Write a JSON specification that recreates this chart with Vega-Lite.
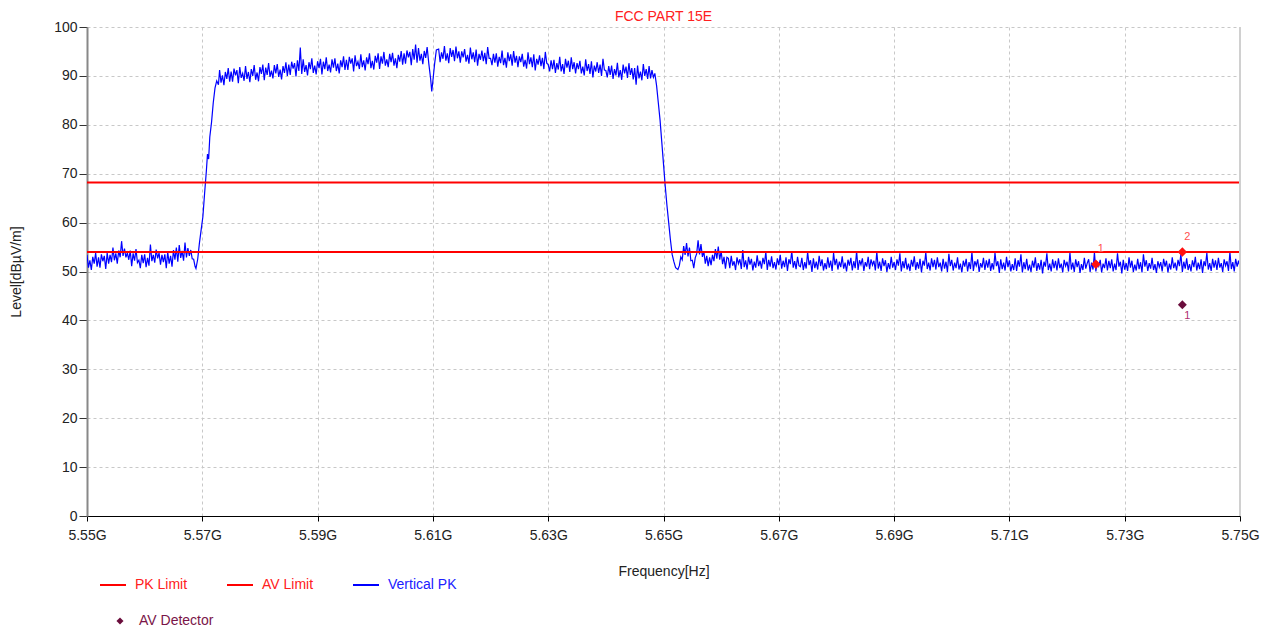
{
  "$schema": "https://vega.github.io/schema/vega-lite/v6.json",
  "width": 1153,
  "height": 489,
  "autosize": {"type": "none"},
  "padding": {"left": 87, "top": 27, "right": 34, "bottom": 117},
  "background": "white",
  "title": {"text": "FCC PART 15E", "color": "#ff2020", "fontSize": 14, "fontWeight": "normal", "offset": -4, "anchor": "middle"},
  "config": {
    "font": "Liberation Sans, Arial, sans-serif",
    "view": {"stroke": null},
    "axis": {"grid": true, "gridColor": "#c8c8c8", "gridDash": [3, 3], "gridWidth": 1, "labelFontSize": 14, "labelColor": "#222", "titleFontSize": 14, "titleFontWeight": "normal", "titleColor": "#222"}
  },
  "datasets": {
    "pk": [
{"f":5.55000,"v":53.4},{"f":5.55025,"v":50.8},{"f":5.55050,"v":52.3},{"f":5.55075,"v":50.3},{"f":5.55100,"v":53.0},{"f":5.55125,"v":51.6},{"f":5.55150,"v":53.8},{"f":5.55175,"v":51.0},{"f":5.55200,"v":52.9},{"f":5.55225,"v":50.8},
{"f":5.55250,"v":53.5},{"f":5.55275,"v":52.1},{"f":5.55300,"v":53.2},{"f":5.55325,"v":50.5},{"f":5.55350,"v":53.8},{"f":5.55375,"v":51.6},{"f":5.55400,"v":53.4},{"f":5.55425,"v":51.9},{"f":5.55450,"v":54.9},{"f":5.55475,"v":52.3},
{"f":5.55500,"v":53.7},{"f":5.55525,"v":51.6},{"f":5.55550,"v":54.3},{"f":5.55575,"v":52.9},{"f":5.55600,"v":56.2},{"f":5.55625,"v":53.2},{"f":5.55650,"v":54.7},{"f":5.55675,"v":52.9},{"f":5.55700,"v":53.8},{"f":5.55725,"v":52.4},
{"f":5.55750,"v":54.3},{"f":5.55775,"v":51.1},{"f":5.55800,"v":53.7},{"f":5.55825,"v":52.2},{"f":5.55850,"v":54.6},{"f":5.55875,"v":51.8},{"f":5.55900,"v":52.3},{"f":5.55925,"v":50.7},{"f":5.55950,"v":53.4},{"f":5.55975,"v":51.7},
{"f":5.56000,"v":53.5},{"f":5.56025,"v":50.9},{"f":5.56050,"v":52.8},{"f":5.56075,"v":51.2},{"f":5.56100,"v":55.5},{"f":5.56125,"v":52.1},{"f":5.56150,"v":53.4},{"f":5.56175,"v":51.8},{"f":5.56200,"v":54.5},{"f":5.56225,"v":52.7},
{"f":5.56250,"v":53.8},{"f":5.56275,"v":51.4},{"f":5.56300,"v":53.4},{"f":5.56325,"v":51.9},{"f":5.56350,"v":53.5},{"f":5.56375,"v":50.7},{"f":5.56400,"v":54.0},{"f":5.56425,"v":51.6},{"f":5.56450,"v":53.2},{"f":5.56475,"v":51.0},
{"f":5.56500,"v":54.4},{"f":5.56525,"v":52.4},{"f":5.56550,"v":54.9},{"f":5.56575,"v":52.0},{"f":5.56600,"v":55.4},{"f":5.56625,"v":52.8},{"f":5.56650,"v":54.2},{"f":5.56675,"v":52.2},{"f":5.56700,"v":55.9},{"f":5.56725,"v":52.9},
{"f":5.56750,"v":54.8},{"f":5.56775,"v":53.2},{"f":5.56800,"v":54.4},{"f":5.56825,"v":52.6},{"f":5.56850,"v":52.5},{"f":5.56875,"v":51.0},
{"f":5.5689,"v":50.6},{"f":5.5692,"v":52.5},{"f":5.5695,"v":55.8},{"f":5.5698,"v":58.5},{"f":5.5701,"v":61.2},{"f":5.5704,"v":66.0},{"f":5.5707,"v":70.5},{"f":5.5709,"v":74.0},{"f":5.5711,"v":73.0},{"f":5.5713,"v":77.5},
{"f":5.5716,"v":80.5},{"f":5.5719,"v":84.5},{"f":5.5722,"v":87.5},{"f":5.5725,"v":89.0},{"f":5.5728,"v":88.2},
{"f":5.57300,"v":91.2},{"f":5.57325,"v":88.6},{"f":5.57350,"v":90.1},{"f":5.57375,"v":88.1},{"f":5.57400,"v":90.8},{"f":5.57425,"v":89.4},{"f":5.57450,"v":91.6},{"f":5.57475,"v":88.8},
{"f":5.57500,"v":90.9},{"f":5.57525,"v":88.8},{"f":5.57550,"v":91.5},{"f":5.57575,"v":90.1},{"f":5.57600,"v":91.2},{"f":5.57625,"v":88.5},{"f":5.57650,"v":91.8},{"f":5.57675,"v":89.6},{"f":5.57700,"v":90.5},{"f":5.57725,"v":89.0},
{"f":5.57750,"v":92.0},{"f":5.57775,"v":89.4},{"f":5.57800,"v":90.8},{"f":5.57825,"v":88.7},{"f":5.57850,"v":91.4},{"f":5.57875,"v":90.0},{"f":5.57900,"v":92.2},{"f":5.57925,"v":89.2},{"f":5.57950,"v":90.7},{"f":5.57975,"v":88.9},
{"f":5.58000,"v":91.8},{"f":5.58025,"v":90.4},{"f":5.58050,"v":92.3},{"f":5.58075,"v":89.1},{"f":5.58100,"v":91.7},{"f":5.58125,"v":90.2},{"f":5.58150,"v":92.6},{"f":5.58175,"v":89.8},{"f":5.58200,"v":91.1},{"f":5.58225,"v":89.5},
{"f":5.58250,"v":92.2},{"f":5.58275,"v":90.5},{"f":5.58300,"v":92.4},{"f":5.58325,"v":89.8},{"f":5.58350,"v":91.3},{"f":5.58375,"v":89.3},{"f":5.58400,"v":92.0},{"f":5.58425,"v":90.6},{"f":5.58450,"v":92.8},{"f":5.58475,"v":90.0},
{"f":5.58500,"v":92.3},{"f":5.58525,"v":90.2},{"f":5.58550,"v":92.9},{"f":5.58575,"v":91.5},{"f":5.58600,"v":92.6},{"f":5.58625,"v":89.9},{"f":5.58650,"v":93.2},{"f":5.58675,"v":91.0},{"f":5.58700,"v":95.8},{"f":5.58725,"v":90.4},
{"f":5.58750,"v":93.4},{"f":5.58775,"v":90.8},{"f":5.58800,"v":92.2},{"f":5.58825,"v":90.1},{"f":5.58850,"v":92.8},{"f":5.58875,"v":91.4},{"f":5.58900,"v":93.6},{"f":5.58925,"v":90.6},{"f":5.58950,"v":92.1},{"f":5.58975,"v":90.3},
{"f":5.59000,"v":93.0},{"f":5.59025,"v":91.6},{"f":5.59050,"v":93.5},{"f":5.59075,"v":90.3},{"f":5.59100,"v":92.9},{"f":5.59125,"v":91.4},{"f":5.59150,"v":93.8},{"f":5.59175,"v":91.0},{"f":5.59200,"v":92.3},{"f":5.59225,"v":90.7},
{"f":5.59250,"v":93.4},{"f":5.59275,"v":91.7},{"f":5.59300,"v":93.6},{"f":5.59325,"v":91.0},{"f":5.59350,"v":92.5},{"f":5.59375,"v":90.5},{"f":5.59400,"v":93.2},{"f":5.59425,"v":91.8},{"f":5.59450,"v":94.0},{"f":5.59475,"v":91.2},
{"f":5.59500,"v":93.3},{"f":5.59525,"v":91.2},{"f":5.59550,"v":93.9},{"f":5.59575,"v":92.5},{"f":5.59600,"v":93.6},{"f":5.59625,"v":90.9},{"f":5.59650,"v":94.2},{"f":5.59675,"v":92.0},{"f":5.59700,"v":92.9},{"f":5.59725,"v":91.4},
{"f":5.59750,"v":94.4},{"f":5.59775,"v":91.8},{"f":5.59800,"v":93.2},{"f":5.59825,"v":91.1},{"f":5.59850,"v":93.8},{"f":5.59875,"v":92.4},{"f":5.59900,"v":94.6},{"f":5.59925,"v":91.6},{"f":5.59950,"v":93.1},{"f":5.59975,"v":91.3},
{"f":5.60000,"v":94.1},{"f":5.60025,"v":92.7},{"f":5.60050,"v":94.6},{"f":5.60075,"v":91.4},{"f":5.60100,"v":94.0},{"f":5.60125,"v":92.5},{"f":5.60150,"v":94.9},{"f":5.60175,"v":92.1},{"f":5.60200,"v":93.4},{"f":5.60225,"v":91.8},
{"f":5.60250,"v":94.5},{"f":5.60275,"v":92.8},{"f":5.60300,"v":94.7},{"f":5.60325,"v":92.1},{"f":5.60350,"v":93.6},{"f":5.60375,"v":91.6},{"f":5.60400,"v":94.3},{"f":5.60425,"v":92.9},{"f":5.60450,"v":95.1},{"f":5.60475,"v":92.3},
{"f":5.60500,"v":94.6},{"f":5.60525,"v":92.5},{"f":5.60550,"v":95.2},{"f":5.60575,"v":93.8},{"f":5.60600,"v":94.9},{"f":5.60625,"v":92.2},{"f":5.60650,"v":95.5},{"f":5.60675,"v":93.3},{"f":5.60700,"v":96.4},{"f":5.60725,"v":92.7},
{"f":5.60750,"v":95.7},{"f":5.60775,"v":93.1},{"f":5.60800,"v":94.5},{"f":5.60825,"v":92.4},{"f":5.60850,"v":95.1},{"f":5.60875,"v":93.7},{"f":5.60900,"v":95.9},
{"f":5.6093,"v":92.4},{"f":5.6096,"v":89.5},{"f":5.6098,"v":86.8},{"f":5.6100,"v":89.0},{"f":5.6103,"v":92.5},{"f":5.6106,"v":95.3},
{"f":5.61100,"v":95.5},{"f":5.61125,"v":92.8},{"f":5.61150,"v":94.8},{"f":5.61175,"v":93.5},{"f":5.61200,"v":96.1},{"f":5.61225,"v":93.1},{"f":5.61250,"v":94.6},{"f":5.61275,"v":92.6},{"f":5.61300,"v":95.7},{"f":5.61325,"v":93.9},
{"f":5.61350,"v":95.3},{"f":5.61375,"v":93.0},{"f":5.61400,"v":96.0},{"f":5.61425,"v":93.6},{"f":5.61450,"v":95.0},{"f":5.61475,"v":92.7},
{"f":5.61500,"v":95.0},{"f":5.61525,"v":93.8},{"f":5.61550,"v":95.5},{"f":5.61575,"v":92.9},{"f":5.61600,"v":94.3},{"f":5.61625,"v":92.5},{"f":5.61650,"v":95.8},{"f":5.61675,"v":93.4},{"f":5.61700,"v":94.8},{"f":5.61725,"v":92.8},
{"f":5.61750,"v":95.4},{"f":5.61775,"v":92.1},{"f":5.61800,"v":94.5},{"f":5.61825,"v":93.3},{"f":5.61850,"v":95.2},{"f":5.61875,"v":93.0},{"f":5.61900,"v":94.7},{"f":5.61925,"v":92.4},{"f":5.61950,"v":95.9},{"f":5.61975,"v":93.6},
{"f":5.62000,"v":93.6},{"f":5.62025,"v":92.2},{"f":5.62050,"v":94.5},{"f":5.62075,"v":92.7},{"f":5.62100,"v":94.6},{"f":5.62125,"v":91.9},{"f":5.62150,"v":93.9},{"f":5.62175,"v":92.6},{"f":5.62200,"v":95.2},{"f":5.62225,"v":92.2},
{"f":5.62250,"v":93.7},{"f":5.62275,"v":91.7},{"f":5.62300,"v":94.8},{"f":5.62325,"v":93.0},{"f":5.62350,"v":94.4},{"f":5.62375,"v":92.1},{"f":5.62400,"v":95.1},{"f":5.62425,"v":92.7},{"f":5.62450,"v":94.1},{"f":5.62475,"v":91.8},
{"f":5.62500,"v":94.0},{"f":5.62525,"v":92.8},{"f":5.62550,"v":94.5},{"f":5.62575,"v":91.9},{"f":5.62600,"v":93.3},{"f":5.62625,"v":91.5},{"f":5.62650,"v":94.8},{"f":5.62675,"v":92.4},{"f":5.62700,"v":93.8},{"f":5.62725,"v":91.8},
{"f":5.62750,"v":94.4},{"f":5.62775,"v":91.1},{"f":5.62800,"v":93.5},{"f":5.62825,"v":92.3},{"f":5.62850,"v":94.2},{"f":5.62875,"v":92.0},{"f":5.62900,"v":93.7},{"f":5.62925,"v":91.4},{"f":5.62950,"v":94.9},{"f":5.62975,"v":92.6},
{"f":5.63000,"v":92.3},{"f":5.63025,"v":90.9},{"f":5.63050,"v":93.2},{"f":5.63075,"v":91.4},{"f":5.63100,"v":93.3},{"f":5.63125,"v":90.6},{"f":5.63150,"v":92.6},{"f":5.63175,"v":91.3},{"f":5.63200,"v":93.9},{"f":5.63225,"v":90.9},
{"f":5.63250,"v":92.4},{"f":5.63275,"v":90.4},{"f":5.63300,"v":93.5},{"f":5.63325,"v":91.7},{"f":5.63350,"v":93.1},{"f":5.63375,"v":90.8},{"f":5.63400,"v":93.8},{"f":5.63425,"v":91.4},{"f":5.63450,"v":92.8},{"f":5.63475,"v":90.5},
{"f":5.63500,"v":92.6},{"f":5.63525,"v":91.4},{"f":5.63550,"v":93.1},{"f":5.63575,"v":90.5},{"f":5.63600,"v":91.9},{"f":5.63625,"v":90.1},{"f":5.63650,"v":93.4},{"f":5.63675,"v":91.0},{"f":5.63700,"v":92.4},{"f":5.63725,"v":90.4},
{"f":5.63750,"v":93.0},{"f":5.63775,"v":89.7},{"f":5.63800,"v":92.1},{"f":5.63825,"v":90.9},{"f":5.63850,"v":92.8},{"f":5.63875,"v":90.6},{"f":5.63900,"v":92.3},{"f":5.63925,"v":90.0},{"f":5.63950,"v":93.5},{"f":5.63975,"v":91.2},
{"f":5.64000,"v":91.1},{"f":5.64025,"v":89.7},{"f":5.64050,"v":92.0},{"f":5.64075,"v":90.2},{"f":5.64100,"v":92.1},{"f":5.64125,"v":89.4},{"f":5.64150,"v":91.4},{"f":5.64175,"v":90.1},{"f":5.64200,"v":92.7},{"f":5.64225,"v":89.7},
{"f":5.64250,"v":91.2},{"f":5.64275,"v":89.2},{"f":5.64300,"v":92.3},{"f":5.64325,"v":90.5},{"f":5.64350,"v":91.9},{"f":5.64375,"v":89.6},{"f":5.64400,"v":92.6},{"f":5.64425,"v":90.2},{"f":5.64450,"v":91.6},{"f":5.64475,"v":89.3},
{"f":5.64500,"v":91.6},{"f":5.64525,"v":88.2},{"f":5.64550,"v":92.1},{"f":5.64575,"v":89.5},{"f":5.64600,"v":90.9},{"f":5.64625,"v":89.1},{"f":5.64650,"v":92.4},{"f":5.64675,"v":90.0},{"f":5.64700,"v":91.4},{"f":5.64725,"v":89.4},
{"f":5.64750,"v":92.0},{"f":5.64775,"v":89.5},{"f":5.64800,"v":91.2},{"f":5.64825,"v":89.7},
{"f":5.6485,"v":90.5},{"f":5.6488,"v":88.0},{"f":5.6491,"v":84.5},{"f":5.6494,"v":81.0},{"f":5.6497,"v":76.5},{"f":5.6500,"v":72.0},{"f":5.6503,"v":67.5},{"f":5.6506,"v":63.5},{"f":5.6509,"v":60.0},{"f":5.6512,"v":56.5},
{"f":5.6515,"v":53.5},{"f":5.6518,"v":52.0},{"f":5.6521,"v":50.8},{"f":5.6525,"v":50.4},
{"f":5.65275,"v":51.2},{"f":5.65300,"v":53.0},{"f":5.65325,"v":52.4},{"f":5.65350,"v":55.2},{"f":5.65375,"v":53.4},{"f":5.65400,"v":55.8},{"f":5.65425,"v":53.1},{"f":5.65450,"v":54.9},{"f":5.65475,"v":52.2},{"f":5.65500,"v":52.3},
{"f":5.65525,"v":50.7},{"f":5.65550,"v":52.8},{"f":5.65575,"v":53.6},{"f":5.65600,"v":56.4},{"f":5.65625,"v":53.5},{"f":5.65650,"v":55.6},{"f":5.65675,"v":53.0},{"f":5.65700,"v":54.1},{"f":5.65725,"v":51.6},{"f":5.65750,"v":53.2},
{"f":5.65775,"v":51.1},{"f":5.65800,"v":52.9},{"f":5.65825,"v":51.3},{"f":5.65850,"v":53.4},{"f":5.65875,"v":52.1},{"f":5.65900,"v":54.6},{"f":5.65925,"v":52.6},{"f":5.65950,"v":55.1},{"f":5.65975,"v":52.4},{"f":5.66000,"v":54.2},
{"f":5.66025,"v":51.5},{"f":5.66050,"v":53.0},{"f":5.66075,"v":50.6},{"f":5.66100,"v":52.9},
{"f":5.66125,"v":52.7},{"f":5.66150,"v":50.7},{"f":5.66175,"v":53.2},{"f":5.66200,"v":51.2},{"f":5.66225,"v":52.1},{"f":5.66250,"v":50.3},{"f":5.66275,"v":52.9},{"f":5.66300,"v":51.6},{"f":5.66325,"v":52.5},{"f":5.66350,"v":50.5},
{"f":5.66375,"v":54.4},{"f":5.66400,"v":50.9},{"f":5.66425,"v":52.3},{"f":5.66450,"v":50.4},{"f":5.66475,"v":53.0},{"f":5.66500,"v":51.4},{"f":5.66525,"v":52.6},{"f":5.66550,"v":50.2},{"f":5.66575,"v":52.0},{"f":5.66600,"v":50.8},
{"f":5.66625,"v":53.3},{"f":5.66650,"v":51.1},{"f":5.66675,"v":52.2},{"f":5.66700,"v":50.6},{"f":5.66725,"v":52.8},{"f":5.66750,"v":51.5},{"f":5.66775,"v":54.0},{"f":5.66800,"v":50.3},{"f":5.66825,"v":52.4},{"f":5.66850,"v":51.0},
{"f":5.66875,"v":53.1},{"f":5.66900,"v":50.7},{"f":5.66925,"v":51.9},{"f":5.66950,"v":50.4},{"f":5.66975,"v":52.7},{"f":5.67000,"v":51.3},{"f":5.67025,"v":53.4},{"f":5.67050,"v":50.6},{"f":5.67075,"v":52.2},{"f":5.67100,"v":50.9},
{"f":5.67125,"v":52.9},{"f":5.67150,"v":50.1},{"f":5.67175,"v":52.5},{"f":5.67200,"v":51.5},{"f":5.67225,"v":54.2},{"f":5.67250,"v":50.8},{"f":5.67275,"v":52.1},{"f":5.67300,"v":50.5},{"f":5.67325,"v":53.0},{"f":5.67350,"v":51.2},
{"f":5.67375,"v":51.0},{"f":5.67400,"v":52.8},{"f":5.67425,"v":50.3},{"f":5.67450,"v":51.9},{"f":5.67475,"v":50.6},{"f":5.67500,"v":54.0},{"f":5.67525,"v":51.3},{"f":5.67550,"v":52.3},{"f":5.67575,"v":49.9},{"f":5.67600,"v":52.7},
{"f":5.67625,"v":50.7},{"f":5.67650,"v":52.0},{"f":5.67675,"v":50.4},{"f":5.67700,"v":53.2},{"f":5.67725,"v":51.1},{"f":5.67750,"v":52.5},{"f":5.67775,"v":50.2},{"f":5.67800,"v":51.7},{"f":5.67825,"v":50.5},{"f":5.67850,"v":52.9},
{"f":5.67875,"v":50.8},{"f":5.67900,"v":52.2},{"f":5.67925,"v":50.1},{"f":5.67950,"v":53.8},{"f":5.67975,"v":51.3},{"f":5.68000,"v":52.6},{"f":5.68025,"v":50.4},{"f":5.68050,"v":52.0},{"f":5.68075,"v":50.9},{"f":5.68100,"v":53.1},
{"f":5.68125,"v":50.6},{"f":5.68150,"v":51.8},{"f":5.68175,"v":50.0},{"f":5.68200,"v":52.4},{"f":5.68225,"v":51.2},{"f":5.68250,"v":52.8},{"f":5.68275,"v":50.2},{"f":5.68300,"v":52.1},{"f":5.68325,"v":50.7},{"f":5.68350,"v":54.2},
{"f":5.68375,"v":50.3},{"f":5.68400,"v":52.3},{"f":5.68425,"v":51.4},{"f":5.68450,"v":52.7},{"f":5.68475,"v":50.1},{"f":5.68500,"v":51.9},{"f":5.68525,"v":51.0},{"f":5.68550,"v":53.0},{"f":5.68575,"v":50.5},{"f":5.68600,"v":52.5},
{"f":5.68625,"v":51.3},{"f":5.68650,"v":52.2},{"f":5.68675,"v":50.2},{"f":5.68700,"v":54.1},{"f":5.68725,"v":50.6},{"f":5.68750,"v":52.0},{"f":5.68775,"v":50.1},{"f":5.68800,"v":52.7},{"f":5.68825,"v":51.1},{"f":5.68850,"v":52.3},
{"f":5.68875,"v":49.9},{"f":5.68900,"v":51.7},{"f":5.68925,"v":50.5},{"f":5.68950,"v":53.0},{"f":5.68975,"v":50.8},{"f":5.69000,"v":51.9},{"f":5.69025,"v":50.3},{"f":5.69050,"v":52.5},{"f":5.69075,"v":51.2},{"f":5.69100,"v":53.7},
{"f":5.69125,"v":50.0},{"f":5.69150,"v":52.1},{"f":5.69175,"v":50.7},{"f":5.69200,"v":52.8},{"f":5.69225,"v":50.4},{"f":5.69250,"v":51.6},{"f":5.69275,"v":50.1},{"f":5.69300,"v":52.4},{"f":5.69325,"v":51.0},{"f":5.69350,"v":53.1},
{"f":5.69375,"v":50.3},{"f":5.69400,"v":51.9},{"f":5.69425,"v":50.6},{"f":5.69450,"v":52.6},{"f":5.69475,"v":49.8},{"f":5.69500,"v":52.2},{"f":5.69525,"v":51.2},{"f":5.69550,"v":53.9},{"f":5.69575,"v":50.5},{"f":5.69600,"v":51.8},
{"f":5.69625,"v":50.2},{"f":5.69650,"v":52.7},{"f":5.69675,"v":50.9},{"f":5.69700,"v":52.4},{"f":5.69725,"v":50.4},{"f":5.69750,"v":52.9},{"f":5.69775,"v":50.9},{"f":5.69800,"v":51.8},{"f":5.69825,"v":50.0},{"f":5.69850,"v":52.6},
{"f":5.69875,"v":50.6},{"f":5.69900,"v":52.0},{"f":5.69925,"v":49.9},{"f":5.69950,"v":53.6},{"f":5.69975,"v":51.1},{"f":5.70000,"v":52.4},{"f":5.70025,"v":50.2},{"f":5.70050,"v":51.8},{"f":5.70075,"v":50.7},{"f":5.70100,"v":52.9},
{"f":5.70125,"v":50.4},{"f":5.70150,"v":51.6},{"f":5.70175,"v":49.8},{"f":5.70200,"v":52.2},{"f":5.70225,"v":51.0},{"f":5.70250,"v":52.6},{"f":5.70275,"v":50.0},{"f":5.70300,"v":51.9},{"f":5.70325,"v":50.5},{"f":5.70350,"v":54.0},
{"f":5.70375,"v":50.1},{"f":5.70400,"v":52.1},{"f":5.70425,"v":51.2},{"f":5.70450,"v":52.5},{"f":5.70475,"v":49.9},{"f":5.70500,"v":51.7},{"f":5.70525,"v":50.8},{"f":5.70550,"v":52.8},{"f":5.70575,"v":50.3},{"f":5.70600,"v":52.3},
{"f":5.70625,"v":50.8},{"f":5.70650,"v":52.6},{"f":5.70675,"v":50.1},{"f":5.70700,"v":51.7},{"f":5.70725,"v":50.4},{"f":5.70750,"v":53.8},{"f":5.70775,"v":51.1},{"f":5.70800,"v":52.1},{"f":5.70825,"v":49.7},{"f":5.70850,"v":52.5},
{"f":5.70875,"v":50.5},{"f":5.70900,"v":51.8},{"f":5.70925,"v":50.2},{"f":5.70950,"v":53.0},{"f":5.70975,"v":50.9},{"f":5.71000,"v":52.3},{"f":5.71025,"v":50.0},{"f":5.71050,"v":51.5},{"f":5.71075,"v":50.3},{"f":5.71100,"v":52.7},
{"f":5.71125,"v":50.1},{"f":5.71150,"v":52.3},{"f":5.71175,"v":51.0},{"f":5.71200,"v":53.5},{"f":5.71225,"v":49.8},{"f":5.71250,"v":51.9},{"f":5.71275,"v":50.5},{"f":5.71300,"v":52.6},{"f":5.71325,"v":50.2},{"f":5.71350,"v":51.4},
{"f":5.71375,"v":49.9},{"f":5.71400,"v":52.2},{"f":5.71425,"v":50.8},{"f":5.71450,"v":52.9},{"f":5.71475,"v":50.1},{"f":5.71500,"v":51.7},{"f":5.71525,"v":50.4},{"f":5.71550,"v":52.4},{"f":5.71575,"v":49.6},{"f":5.71600,"v":52.0},
{"f":5.71625,"v":51.0},{"f":5.71650,"v":53.7},{"f":5.71675,"v":50.3},{"f":5.71700,"v":51.6},{"f":5.71725,"v":50.0},{"f":5.71750,"v":52.5},{"f":5.71775,"v":50.7},{"f":5.71800,"v":52.2},{"f":5.71825,"v":50.2},{"f":5.71850,"v":52.7},
{"f":5.71875,"v":50.7},{"f":5.71900,"v":51.6},{"f":5.71925,"v":49.8},{"f":5.71950,"v":52.4},{"f":5.71975,"v":51.1},{"f":5.72000,"v":52.0},{"f":5.72025,"v":50.0},{"f":5.72050,"v":53.9},{"f":5.72075,"v":50.4},{"f":5.72100,"v":51.8},
{"f":5.72125,"v":49.9},{"f":5.72150,"v":52.5},{"f":5.72175,"v":50.9},{"f":5.72200,"v":52.1},{"f":5.72225,"v":49.7},{"f":5.72250,"v":51.5},{"f":5.72275,"v":50.3},{"f":5.72300,"v":52.8},{"f":5.72325,"v":50.6},{"f":5.72350,"v":51.7},
{"f":5.72375,"v":52.5},{"f":5.72400,"v":49.9},{"f":5.72425,"v":51.8},{"f":5.72450,"v":50.4},{"f":5.72475,"v":53.9},{"f":5.72500,"v":50.0},{"f":5.72525,"v":52.0},{"f":5.72550,"v":51.1},{"f":5.72575,"v":52.4},{"f":5.72600,"v":49.8},
{"f":5.72625,"v":51.6},{"f":5.72650,"v":50.7},{"f":5.72675,"v":52.7},{"f":5.72700,"v":50.2},{"f":5.72725,"v":52.2},{"f":5.72750,"v":50.7},{"f":5.72775,"v":52.5},{"f":5.72800,"v":50.0},{"f":5.72825,"v":51.6},{"f":5.72850,"v":50.3},
{"f":5.72875,"v":53.7},{"f":5.72900,"v":51.0},{"f":5.72925,"v":52.0},{"f":5.72950,"v":49.6},{"f":5.72975,"v":52.4},{"f":5.73000,"v":50.4},{"f":5.73025,"v":51.7},{"f":5.73050,"v":50.1},{"f":5.73075,"v":52.9},{"f":5.73100,"v":50.8},
{"f":5.73125,"v":52.2},{"f":5.73150,"v":49.9},{"f":5.73175,"v":51.4},{"f":5.73200,"v":50.2},{"f":5.73225,"v":52.6},{"f":5.73250,"v":50.5},{"f":5.73275,"v":51.9},{"f":5.73300,"v":49.8},{"f":5.73325,"v":53.5},{"f":5.73350,"v":51.0},
{"f":5.73375,"v":52.3},{"f":5.73400,"v":50.1},{"f":5.73425,"v":51.7},{"f":5.73450,"v":50.6},{"f":5.73475,"v":52.8},{"f":5.73500,"v":50.3},{"f":5.73525,"v":51.5},{"f":5.73550,"v":49.7},{"f":5.73575,"v":52.1},{"f":5.73600,"v":50.9},
{"f":5.73625,"v":51.9},{"f":5.73650,"v":50.0},{"f":5.73675,"v":52.6},{"f":5.73700,"v":51.0},{"f":5.73725,"v":52.2},{"f":5.73750,"v":49.8},{"f":5.73775,"v":51.6},{"f":5.73800,"v":50.4},{"f":5.73825,"v":52.9},{"f":5.73850,"v":50.7},
{"f":5.73875,"v":51.8},{"f":5.73900,"v":50.2},{"f":5.73925,"v":52.4},{"f":5.73950,"v":51.1},{"f":5.73975,"v":53.6},{"f":5.74000,"v":49.9},{"f":5.74025,"v":52.0},{"f":5.74050,"v":50.6},{"f":5.74075,"v":52.7},{"f":5.74100,"v":50.3},
{"f":5.74125,"v":51.5},{"f":5.74150,"v":50.0},{"f":5.74175,"v":52.3},{"f":5.74200,"v":50.9},{"f":5.74225,"v":53.0},{"f":5.74250,"v":50.2},{"f":5.74275,"v":51.8},{"f":5.74300,"v":50.5},{"f":5.74325,"v":52.5},{"f":5.74350,"v":49.7},
{"f":5.74375,"v":52.1},{"f":5.74400,"v":51.1},{"f":5.74425,"v":53.8},{"f":5.74450,"v":50.4},{"f":5.74475,"v":51.7},{"f":5.74500,"v":50.1},{"f":5.74525,"v":52.6},{"f":5.74550,"v":50.8},{"f":5.74575,"v":52.3},{"f":5.74600,"v":50.3},
{"f":5.74625,"v":52.8},{"f":5.74650,"v":50.8},{"f":5.74675,"v":51.7},{"f":5.74700,"v":49.9},{"f":5.74725,"v":52.5},{"f":5.74750,"v":51.2},{"f":5.74775,"v":52.1},{"f":5.74800,"v":50.1},{"f":5.74825,"v":54.0},{"f":5.74850,"v":50.5},
{"f":5.74875,"v":51.9},{"f":5.74900,"v":50.0},{"f":5.74925,"v":52.6},{"f":5.74950,"v":51.0},{"f":5.74975,"v":52.2},{"f":5.75000,"v":51.0}
    ],
    "limits": [{"s": "PK Limit", "v": 68.2}, {"s": "AV Limit", "v": 54.0}],
    "pkmarks": [{"f": 5.725, "v": 51.5, "lab": "1"}, {"f": 5.74, "v": 54.0, "lab": "2"}],
    "avmarks": [{"f": 5.74, "v": 43.2, "lab": "1"}],
    "edge": [{"f": 5.75}]
  },
  "encoding": {
    "x": {"field": "f", "type": "quantitative", "scale": {"domain": [5.55, 5.75], "nice": false, "zero": false},
      "axis": {"title": "Frequency[Hz]", "values": [5.55, 5.57, 5.59, 5.61, 5.63, 5.65, 5.67, 5.69, 5.71, 5.73, 5.75], "labelExpr": "format(datum.value, '.2f') + 'G'", "domainColor": "#000", "domainWidth": 1, "tickColor": "#000", "tickSize": 5, "labelPadding": 7, "titleY": 55, "titleBaseline": "middle", "labelFlush": false}},
    "y": {"field": "v", "type": "quantitative", "scale": {"domain": [0, 100], "nice": false},
      "axis": {"title": "Level[dBµV/m]", "values": [0, 10, 20, 30, 40, 50, 60, 70, 80, 90, 100], "domainColor": "#888", "domainWidth": 2, "tickColor": "#333", "tickSize": 8, "labelPadding": 2, "titleX": -71, "titleY": 244.5, "titleBaseline": "middle", "titleAlign": "center"}}
  },
  "layer": [
    {
      "data": {"name": "pk"},
      "mark": {"type": "line", "strokeWidth": 1.2, "clip": true},
      "encoding": {
        "color": {"datum": "Vertical PK", "type": "nominal", "title": null,
          "scale": {"domain": ["PK Limit", "AV Limit", "Vertical PK"], "range": ["#ff0000", "#ff0000", "#0000ff"]},
          "legend": {"title": null, "orient": "none", "legendX": 12, "legendY": 544, "direction": "horizontal", "symbolType": "stroke", "symbolSize": 676, "symbolStrokeWidth": 2, "labelFontSize": 14, "labelOffset": 8, "columnPadding": 35,
            "encode": {"labels": {"update": {"fill": {"signal": "datum.value === 'Vertical PK' ? '#2020ff' : '#ff2020'"}}}}}
        }
      }
    },
    {
      "data": {"name": "limits"},
      "mark": {"type": "rule", "strokeWidth": 2},
      "encoding": {
        "x": {"value": 0},
        "x2": {"value": 1153},
        "y": {"field": "v", "type": "quantitative"},
        "color": {"field": "s", "type": "nominal", "title": null,
          "legend": {"title": null, "orient": "none", "legendX": 12, "legendY": 544, "direction": "horizontal", "symbolType": "stroke", "symbolSize": 676, "symbolStrokeWidth": 2, "labelFontSize": 14, "labelOffset": 8, "columnPadding": 35,
            "encode": {"labels": {"update": {"fill": {"signal": "datum.value === 'Vertical PK' ? '#2020ff' : '#ff2020'"}}}}}}
      }
    },
    {
      "data": {"name": "edge"},
      "mark": {"type": "rule", "stroke": "#d0d0d0", "strokeWidth": 2},
      "encoding": {"x": {"field": "f", "type": "quantitative"}, "y": {"value": 0}, "y2": {"value": 489}}
    },
    {
      "data": {"name": "pkmarks"},
      "mark": {"type": "point", "shape": "diamond", "filled": true, "fill": "#ff1010", "size": 90, "opacity": 1},
      "encoding": {}
    },
    {
      "data": {"name": "pkmarks"},
      "mark": {"type": "text", "color": "#ff5050", "fontSize": 11, "dx": 5, "dy": -15},
      "encoding": {"text": {"field": "lab"}}
    },
    {
      "data": {"name": "avmarks"},
      "mark": {"type": "point", "filled": true, "fill": "#6a0d3c", "size": 80, "opacity": 1},
      "encoding": {
        "shape": {"datum": "AV Detector", "type": "nominal", "scale": {"domain": ["AV Detector"], "range": ["diamond"]},
          "legend": {"title": null, "orient": "none", "legendX": 26, "legendY": 587, "symbolFillColor": "#6a0d3c", "symbolStrokeWidth": 0, "symbolSize": 50, "labelFontSize": 14, "labelOffset": 12, "labelColor": "#7a1548"}}
      }
    },
    {
      "data": {"name": "avmarks"},
      "mark": {"type": "text", "color": "#b03070", "fontSize": 11, "dx": 5, "dy": 11},
      "encoding": {"text": {"field": "lab"}}
    }
  ]
}
